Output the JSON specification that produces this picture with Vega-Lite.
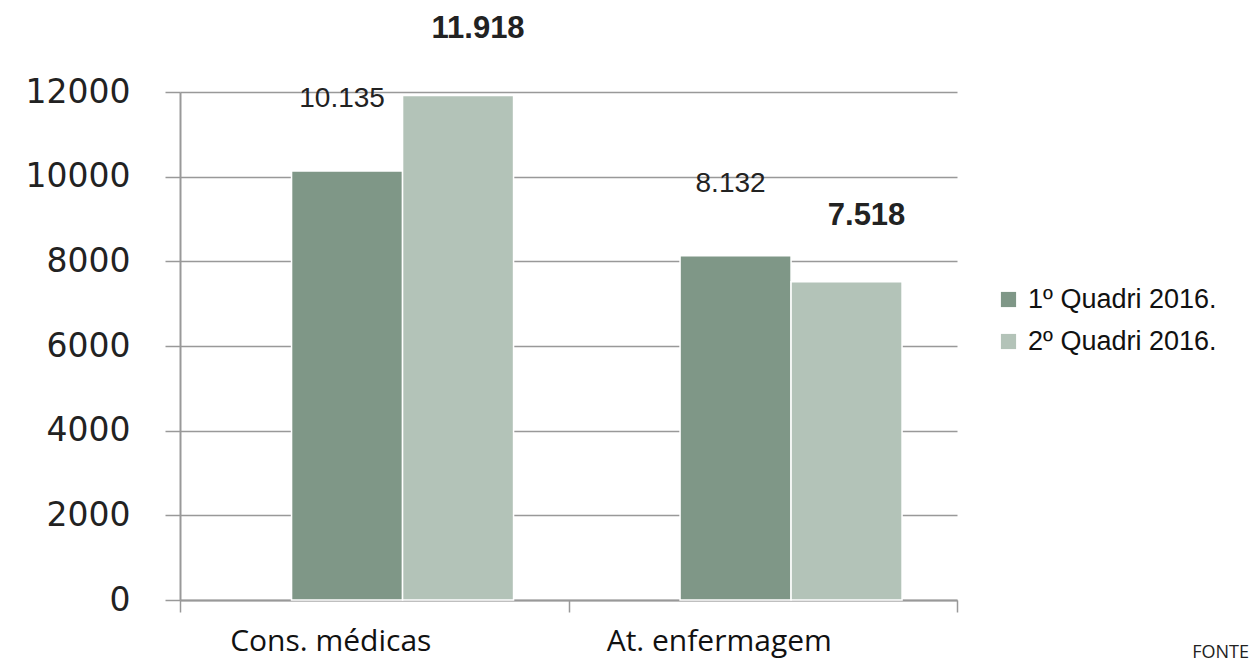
{
  "$schema": "https://vega.github.io/schema/vega-lite/v6.json",
  "autosize": {"type": "none"},
  "width": 777,
  "height": 508,
  "padding": {"left": 180, "top": 92, "right": 299, "bottom": 70},
  "background": "white",
  "config": {
    "view": {"stroke": null},
    "locale": {"number": {"decimal": ",", "thousands": ".", "grouping": [3], "currency": ["", ""]}}
  },
  "title": {"text": "FONTE", "orient": "bottom", "anchor": "end", "frame": "bounds", "font": "Open Sans", "fontSize": 18, "fontWeight": "normal", "color": "#222", "offset": 0, "dy": -12, "dx": 32},
  "data": {"values": [
    {"categoria": "Cons. médicas", "periodo": "1º Quadri 2016.", "valor": 10135},
    {"categoria": "Cons. médicas", "periodo": "2º Quadri 2016.", "valor": 11918},
    {"categoria": "At. enfermagem", "periodo": "1º Quadri 2016.", "valor": 8132},
    {"categoria": "At. enfermagem", "periodo": "2º Quadri 2016.", "valor": 7518}
  ]},
  "encoding": {
    "x": {"field": "categoria", "type": "nominal", "sort": ["Cons. médicas", "At. enfermagem"],
      "scale": {"paddingInner": 0, "paddingOuter": 0},
      "axis": {"title": null, "labelAngle": 0, "labelFont": "Open Sans", "labelFontSize": 30, "labelColor": "#111", "labelPadding": 14, "labelOffset": -44, "labelLimit": 0,
        "domainColor": "#999", "domainWidth": 2, "tickColor": "#999", "tickSize": 12, "tickBand": "extent", "tickWidth": 1.5}},
    "xOffset": {"field": "periodo", "type": "nominal", "scale": {"paddingInner": 0, "paddingOuter": 0.75, "align": 0.67}},
    "y": {"field": "valor", "type": "quantitative", "scale": {"domain": [0, 12000]},
      "axis": {"title": null, "values": [0, 2000, 4000, 6000, 8000, 10000, 12000], "format": "d", "labelFont": "DejaVu Sans", "labelFontSize": 33, "labelColor": "#222", "labelPadding": 35,
        "domainColor": "#999", "domainWidth": 2, "tickColor": "#999", "tickSize": 15, "tickWidth": 1.5, "gridColor": "#999", "gridWidth": 1.5}}
  },
  "layer": [
    {
      "mark": {"type": "bar", "stroke": "white", "strokeWidth": 1.5},
      "encoding": {
        "color": {"field": "periodo", "type": "nominal",
          "scale": {"domain": ["1º Quadri 2016.", "2º Quadri 2016."], "range": ["#7f9787", "#b3c3b8"]},
          "legend": {"title": null, "orient": "none", "legendX": 815, "legendY": 194, "symbolType": "square", "symbolSize": 230, "symbolStrokeWidth": 0,
            "labelFont": "Liberation Sans", "labelFontSize": 27, "labelColor": "#111", "rowPadding": 14, "labelOffset": 6, "labelLimit": 300}}
      }
    },
    {
      "transform": [{"filter": "datum.periodo == '1º Quadri 2016.'"}],
      "mark": {"type": "text", "baseline": "bottom", "dy": -58, "dx": -5, "font": "Liberation Sans", "fontSize": 28, "color": "#222"},
      "encoding": {"text": {"field": "valor", "type": "quantitative", "format": ",d"}}
    },
    {
      "transform": [{"filter": "datum.periodo == '2º Quadri 2016.'"}],
      "mark": {"type": "text", "baseline": "bottom", "dy": -50, "dx": 20, "font": "Liberation Sans", "fontSize": 31, "fontWeight": "bold", "color": "#222"},
      "encoding": {"text": {"field": "valor", "type": "quantitative", "format": ",d"}}
    }
  ]
}
